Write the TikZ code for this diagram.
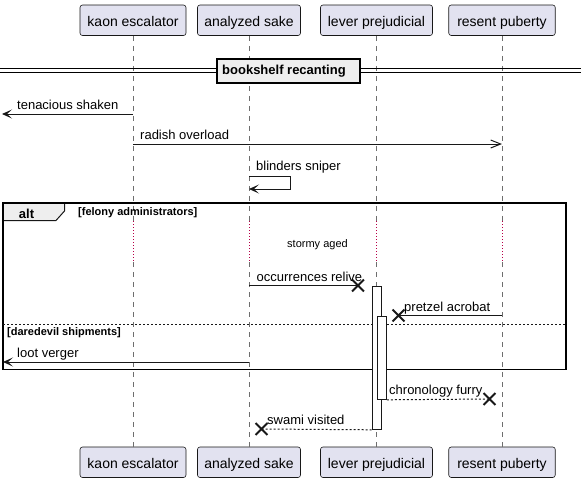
\documentclass[tikz,border=0pt]{standalone}
\usepackage{fontspec}
\setmainfont{Liberation Sans}
\usetikzlibrary{arrows.meta,shapes.misc}
\definecolor{partfill}{HTML}{E2E2F0}
\definecolor{linec}{HTML}{181818}
\definecolor{lifec}{HTML}{6E6E6E}
\definecolor{tabfill}{HTML}{EEEEEE}
\definecolor{delayc}{rgb}{0.72,0.0,0.28}
\tikzset{
  part/.style={draw=linec, fill=partfill, rounded corners=2.5pt, line width=0.6pt,
    minimum height=30.5pt, inner sep=0pt, text height=13.5pt, text depth=0.5pt,
    font=\fontsize{14}{16}\selectfont},
  lifeline/.style={draw=lifec, line width=0.6pt, dash pattern=on 5pt off 5pt},
  delayline/.style={draw=delayc, line width=1pt, dash pattern=on 1pt off 2pt},
  msg/.style={draw=linec, line width=1pt},
  msgdash/.style={msg, dash pattern=on 2pt off 2pt},
  solidtip/.style={-{Stealth[length=10pt,width=9pt,inset=5pt]}},
  opentip/.style={-{Straight Barb[length=10pt,width=8pt]}},
  lbl/.style={anchor=base west, inner sep=0pt, font=\fontsize{13}{15}\selectfont},
  smalllbl/.style={anchor=base, inner sep=0pt, font=\fontsize{11}{13}\selectfont},
  guardlbl/.style={anchor=base west, inner sep=0pt, font=\fontsize{11}{13}\selectfont\bfseries},
  xmark/.style={draw=linec, cross out, minimum size=10pt, inner sep=0pt, line width=1.8pt},
  actbar/.style={draw=linec, fill=white, line width=0.8pt},
}
\begin{document}
\begin{tikzpicture}[x=1pt,y=-1pt]
\useasboundingbox (0,0) rectangle (581,483);

% participants
\node[part, minimum width=106pt] (pAt) at (133,20.25) {kaon escalator};
\node[part, minimum width=103pt] (pBt) at (249,20.25) {analyzed sake};
\node[part, minimum width=112pt] (pCt) at (376.5,20.25) {lever prejudicial};
\node[part, minimum width=106.5pt] (pDt) at (502,20.25) {resent puberty};
\node[part, minimum width=106pt] (pAb) at (133,462.25) {kaon escalator};
\node[part, minimum width=103pt] (pBb) at (249,462.25) {analyzed sake};
\node[part, minimum width=112pt] (pCb) at (376.5,462.25) {lever prejudicial};
\node[part, minimum width=106.5pt] (pDb) at (502,462.25) {resent puberty};

% delay coordinates
\foreach \n/\x in {A/133,B/249,C/376.5,D/502}{
  \coordinate (d\n1) at (\x,221);
  \coordinate (d\n2) at (\x,262);
}
% lifelines
\foreach \n in {A,B,C,D}{
  \draw[lifeline] (p\n t.south) -- (d\n1);
  \draw[delayline] (d\n1) -- (d\n2);
  \draw[lifeline] (d\n2) -- (p\n b.north);
}

% divider
\coordinate (dl1) at (0,68); \coordinate (dr1) at (581,68);
\coordinate (dl2) at (0,72); \coordinate (dr2) at (581,72);
\draw[black, line width=1pt] (dl1) -- (dr1);
\draw[black, line width=1pt] (dl2) -- (dr2);
\node[draw=black, fill=tabfill, line width=1.8pt, minimum width=143pt, minimum height=24pt,
  anchor=north west, inner sep=0pt] (divbox) at (216,58) {};
\node[anchor=base west, inner sep=0pt, font=\fontsize{13}{15}\selectfont\bfseries] (divtxt) at (222,74.7) {bookshelf recanting};

% message 1
\coordinate (m1s) at (133,114); \coordinate (m1e) at (2,114);
\draw[msg, solidtip] (m1s) -- (m1e);
\node[lbl] (m1l) at (17,109.5) {tenacious shaken};

% message 2
\coordinate (m2s) at (133,144); \coordinate (m2e) at (502,144);
\draw[msg, opentip] (m2s) -- (m2e);
\node[lbl] (m2l) at (140,139.5) {radish overload};

% message 3 (self)
\coordinate (m3s) at (249,176); \coordinate (m3a) at (290.5,176);
\coordinate (m3b) at (290.5,189); \coordinate (m3e) at (249,189);
\draw[msg, solidtip] (m3s) -- (m3a) -- (m3b) -- (m3e);
\node[lbl] (m3l) at (256,170.5) {blinders sniper};

% alt frame
\filldraw[fill=tabfill, draw=linec, line width=1pt] (3,203) -- (64.5,203) -- (64.5,211) -- (56,220.5) -- (3,220.5);
\draw[black, line width=1.5pt] (3,203) rectangle (566,369.5);
\node[anchor=base, inner sep=0pt, font=\fontsize{13}{15}\selectfont\bfseries] (altl) at (26.5,218) {alt};
\node[guardlbl] (g1) at (78,215.7) {[felony administrators]};
\coordinate (sepl) at (3,324); \coordinate (sepr) at (566,324);
\draw[linec, line width=0.8pt, dash pattern=on 2pt off 2pt] (sepl) -- (sepr);
\node[guardlbl] (g2) at (7,335.4) {[daredevil shipments]};

% delay text
\node[smalllbl] (dtxt) at (317.5,247) {stormy aged};

% activation bars
\node[actbar, minimum width=9.5pt, minimum height=143.5pt, anchor=north west, inner sep=0pt] (act1) at (371.5,285.5) {};
\node[actbar, minimum width=9.5pt, minimum height=83.5pt, anchor=north west, inner sep=0pt] (act2) at (376.5,315.5) {};

% occurrences relive (lost)
\coordinate (m4s) at (249,285.5);
\node[xmark] (x4) at (358,285.5) {};
\draw[msg] (m4s) -- (x4.center);
\node[lbl] (m4l) at (256.5,281) {occurrences relive};

% pretzel acrobat
\coordinate (m5s) at (502,315.5);
\node[xmark] (x5) at (398.5,315.5) {};
\draw[msg] (m5s) -- (x5.center);
\node[lbl] (m5l) at (404,311) {pretzel acrobat};

% loot verger
\coordinate (m6s) at (249,362); \coordinate (m6e) at (3,362);
\draw[msg, solidtip] (m6s) -- (m6e);
\node[lbl] (m6l) at (17,357.5) {loot verger};

% chronology furry
\node[xmark] (x7) at (489.5,399) {};
\draw[msgdash] (act2.south east) -- (x7.center);
\node[lbl] (m7l) at (389,394.8) {chronology furry};

% swami visited
\node[xmark] (x8) at (261.5,429) {};
\draw[msgdash] (act1.south west) -- (x8.center);
\node[lbl] (m8l) at (267,424.5) {swami visited};
\end{tikzpicture}
\end{document}
